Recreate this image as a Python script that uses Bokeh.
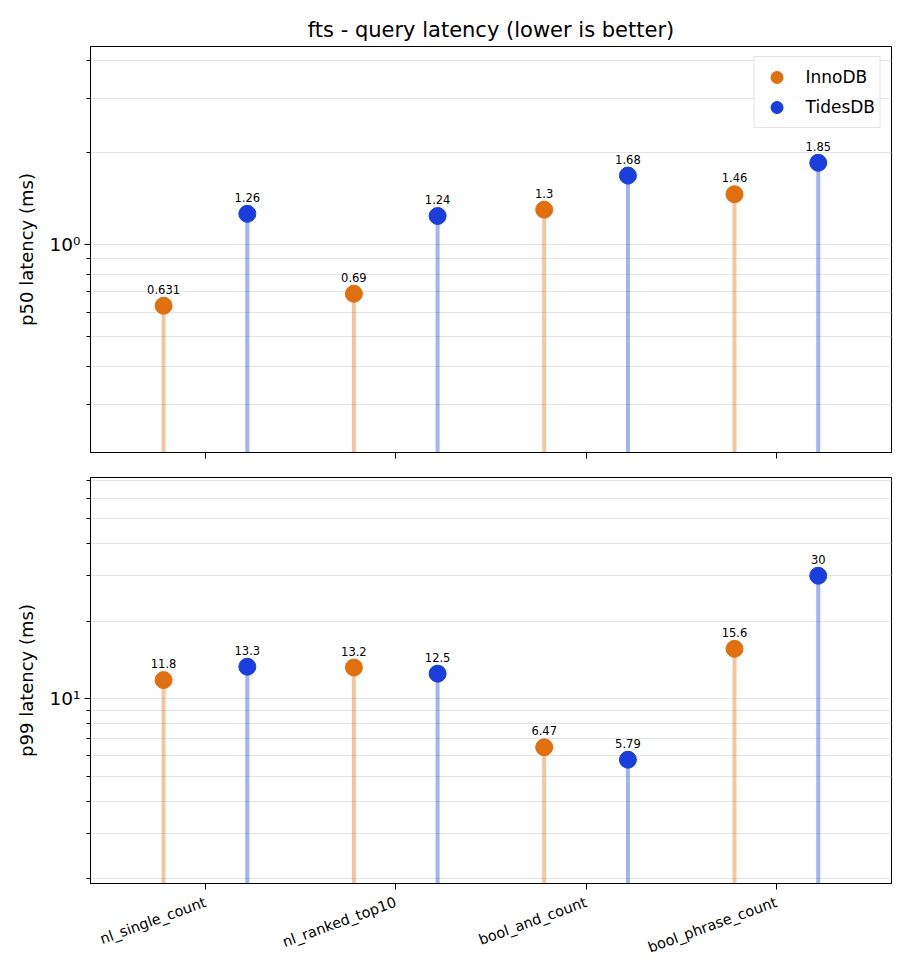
import math
from bokeh.plotting import figure
from bokeh.models import Range1d, FixedTicker, Legend, LegendItem, ColumnDataSource
from bokeh.layouts import column
from bokeh.embed import file_html
from bokeh.resources import INLINE

# ---- data ----
categories = ["nl_single_count", "nl_ranked_top10", "bool_and_count", "bool_phrase_count"]
series_names = ["InnoDB", "TidesDB"]
p50_innodb = [0.631, 0.69, 1.3, 1.46]
p50_tidesdb = [1.26, 1.24, 1.68, 1.85]
p99_innodb = [11.8, 13.2, 6.47, 15.6]
p99_tidesdb = [13.3, 12.5, 5.79, 30]

title_text = "fts - query latency (lower is better)"
ylabel_top = "p50 latency (ms)"
ylabel_bottom = "p99 latency (ms)"

# ---- style ----
FONT = "DejaVu Sans"
COLORS = ["#e0700f", "#1a3edc"]
OFFSET = 0.22
GRID = "#e4e4e4"


def minor_ticks(lo_exp, hi_exp):
    return [m * 10 ** k for k in range(lo_exp, hi_exp + 1) for m in range(2, 10)]


def make_panel(vals, ylab, yrange, major, major_label, minor, height, top_border, bottom_border, show_xlabels, title=None):
    p = figure(width=910, height=height, output_backend="svg", toolbar_location=None,
               y_axis_type="log", x_range=Range1d(-0.604, 3.605), y_range=Range1d(*yrange),
               min_border_left=90, min_border_right=19, min_border_top=top_border,
               min_border_bottom=bottom_border, title=title)
    p.outline_line_color = "black"
    p.outline_line_width = 1
    p.background_fill_color = "white"
    p.border_fill_color = "white"
    if title is not None:
        p.title.text_font = FONT
        p.title.text_font_size = "21px"
        p.title.text_font_style = "normal"
        p.title.align = "center"
        p.title.text_color = "black"
        p.title.offset = 2
    p.xgrid.visible = False
    p.ygrid.grid_line_color = GRID
    p.ygrid.minor_grid_line_color = GRID

    # y axis
    yax = p.yaxis[0]
    yax.ticker = FixedTicker(ticks=major, minor_ticks=minor)
    yax.major_label_overrides = {major[0]: major_label}
    yax.major_label_text_font = FONT
    yax.major_label_text_font_size = "18.5px"
    yax.major_label_text_color = "black"
    yax.major_label_standoff = 4
    yax.axis_label = ylab
    yax.axis_label_text_font = FONT
    yax.axis_label_text_font_size = "18px"
    yax.axis_label_text_font_style = "normal"
    yax.axis_label_text_color = "black"
    yax.axis_label_standoff = 10
    yax.major_tick_out = 6
    yax.major_tick_in = 0
    yax.minor_tick_out = 4
    yax.minor_tick_in = 0
    yax.axis_line_color = "black"

    # x axis
    xax = p.xaxis[0]
    xax.ticker = FixedTicker(ticks=list(range(len(categories))), minor_ticks=[])
    xax.major_tick_out = 6
    xax.major_tick_in = 0
    xax.axis_line_color = "black"
    if show_xlabels:
        xax.major_label_overrides = {i: c for i, c in enumerate(categories)}
        xax.major_label_orientation = math.radians(20)
        xax.major_label_text_font = FONT
        xax.major_label_text_font_size = "14.5px"
        xax.major_label_text_color = "black"
        xax.major_label_standoff = 12
    else:
        xax.major_label_overrides = {i: "" for i in range(len(categories))}
        xax.major_label_text_font_size = "0px"
        xax.major_label_standoff = 0

    renderers = []
    for k, (name, series) in enumerate(zip(series_names, vals)):
        xs = [i + (2 * k - 1) * OFFSET for i in range(len(categories))]
        src = ColumnDataSource(dict(x=xs, y=series, y0=[yrange[0]] * len(series),
                                    label=[f"{v:.3g}" for v in series]))
        p.segment(x0="x", y0="y0", x1="x", y1="y", source=src, line_color=COLORS[k],
                  line_alpha=0.4, line_width=4)
        r = p.scatter(x="x", y="y", source=src, size=17, fill_color=COLORS[k],
                      line_color=COLORS[k], marker="circle")
        p.text(x="x", y="y", text="label", source=src, y_offset=-12,
               text_align="center", text_baseline="bottom", text_font_size="11.5px",
               text_font={"value": FONT}, text_color="black")
        renderers.append((name, r))
    return p, renderers


top, top_rs = make_panel([p50_innodb, p50_tidesdb], ylabel_top, (0.209, 4.44), [1], "10\u2070",
                         [m / 10 for m in range(3, 10)] + [2, 3, 4], 465, 46, 13, False,
                         title=title_text)
bottom, _ = make_panel([p99_innodb, p99_tidesdb], ylabel_bottom, (1.914, 72.2), [10], "10\u00b9",
                       minor_ticks(0, 1), 510, 12, 92, True)

legend = Legend(items=[LegendItem(label=n, renderers=[r]) for n, r in top_rs],
                location="top_right")
legend.label_text_font = FONT
legend.label_text_font_size = "17px"
legend.label_text_color = "black"
legend.glyph_height = 30
legend.glyph_width = 34
legend.label_standoff = 12
legend.padding = 5
legend.spacing = 0
legend.margin = 10
legend.border_line_color = "#cccccc"
legend.border_line_width = 1
legend.background_fill_alpha = 0.85
top.add_layout(legend, "center")

layout = column(top, bottom, spacing=0)
open("out.html", "w").write(file_html(layout, INLINE))
